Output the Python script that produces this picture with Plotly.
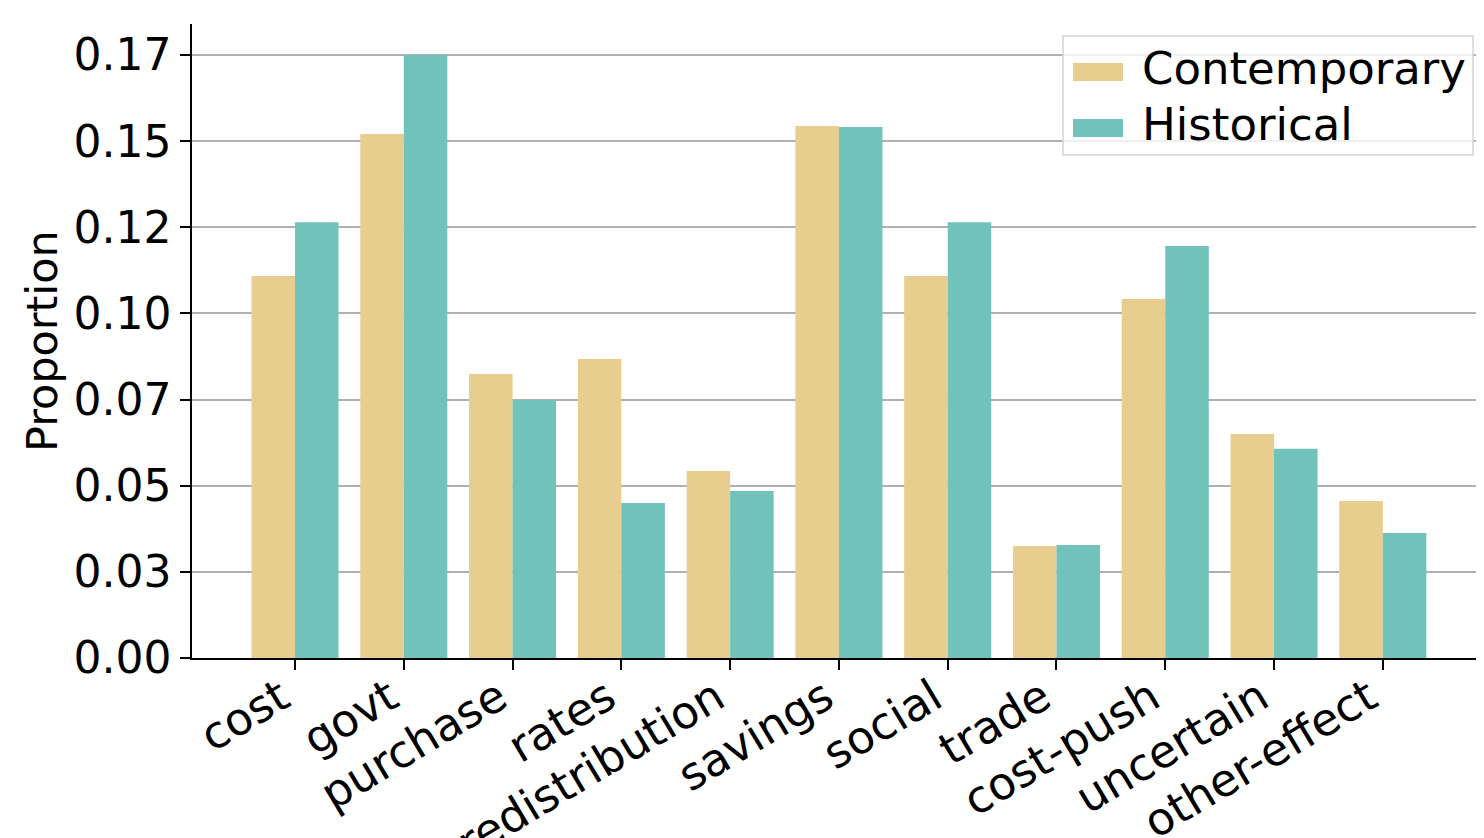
import plotly.graph_objects as go

categories = ["cost", "govt", "purchase", "rates", "redistribution", "savings",
              "social", "trade", "cost-push", "uncertain", "other-effect"]
contemporary = [0.1109, 0.1521, 0.0824, 0.0868, 0.0543, 0.1544,
                0.1109, 0.0325, 0.1042, 0.0650, 0.0456]
historical = [0.1265, 0.1750, 0.0749, 0.0450, 0.0485, 0.1541,
              0.1265, 0.0328, 0.1196, 0.0607, 0.0363]
ytick_vals = [0.0, 0.025, 0.05, 0.075, 0.1, 0.125, 0.15, 0.175]
ytick_text = ["0.00", "0.03", "0.05", "0.07", "0.10", "0.12", "0.15", "0.17"]
series_names = ["Contemporary", "Historical"]
series_colors = ["#E8CE8E", "#71C2BB"]

FONT = "DejaVu Sans"
OFF = 8  # page body margin in the browser
W, H = 1484 - OFF, 838 - OFF
L, R, T, B = 192 - OFF, 0, 24 - OFF, 180
PW, PH = W - L - R, H - T - B


def px_x(x):
    return (x - OFF - L) / PW


def px_y(y):
    return (H - B - (y - OFF)) / PH


fig = go.Figure()
for name, vals, col in zip(series_names, [contemporary, historical], series_colors):
    fig.add_trace(go.Bar(x=list(range(len(categories))), y=vals, name=name,
                         marker=dict(color=col, line=dict(width=0)), showlegend=False))

shapes = [dict(type="rect", xref="paper", yref="paper",
               x0=px_x(1063), x1=px_x(1473), y0=px_y(155), y1=px_y(36),
               line=dict(color="#d3d3d3", width=1.5), fillcolor="rgba(255,255,255,0.8)",
               layer="above")]
annotations = []
for i, (name, col) in enumerate(zip(series_names, series_colors)):
    yc = 72 + i * 56
    shapes.append(dict(type="rect", xref="paper", yref="paper",
                       x0=px_x(1073), x1=px_x(1123), y0=px_y(yc + 9), y1=px_y(yc - 9),
                       line=dict(width=0), fillcolor=col, layer="above"))
    annotations.append(dict(text=name, xref="paper", yref="paper", x=px_x(1140), y=px_y(yc - 4),
                            xanchor="left", yanchor="middle", showarrow=False,
                            font=dict(size=45, family=FONT, color="black")))
annotations.append(dict(text="Proportion", xref="paper", yref="paper", x=px_x(42), y=px_y(341),
                        xanchor="center", yanchor="middle", textangle=-90, showarrow=False,
                        font=dict(size=43, family=FONT, color="black")))

fig.update_layout(
    width=W, height=H,
    margin=dict(l=L, r=R, t=T, b=B, autoexpand=False),
    paper_bgcolor="white", plot_bgcolor="white",
    barmode="group", bargap=0.2, bargroupgap=0,
    font=dict(family=FONT, color="black"),
    showlegend=False, shapes=shapes, annotations=annotations,
)
fig.update_xaxes(
    range=[-0.947, 10.93], tickmode="array", tickvals=list(range(len(categories))),
    ticktext=categories, tickangle=-31, tickfont=dict(size=45, family=FONT),
    ticklabelshift=-14, ticklabelstandoff=-16,
    showline=True, linecolor="black", linewidth=1.5, ticks="outside", ticklen=10,
    tickwidth=1.5, tickcolor="black", showgrid=False, zeroline=False, automargin=False,
)
fig.update_yaxes(
    range=[0, 0.184], tickmode="array", tickvals=ytick_vals, ticktext=ytick_text,
    tickfont=dict(size=44, family=FONT),
    showline=True, linecolor="black", linewidth=1.5, ticks="outside", ticklen=10,
    tickwidth=1.5, tickcolor="black", showgrid=True, gridcolor="#b0b0b0", gridwidth=1.5,
    zeroline=False, automargin=False,
)
fig.write_html("out.html")
